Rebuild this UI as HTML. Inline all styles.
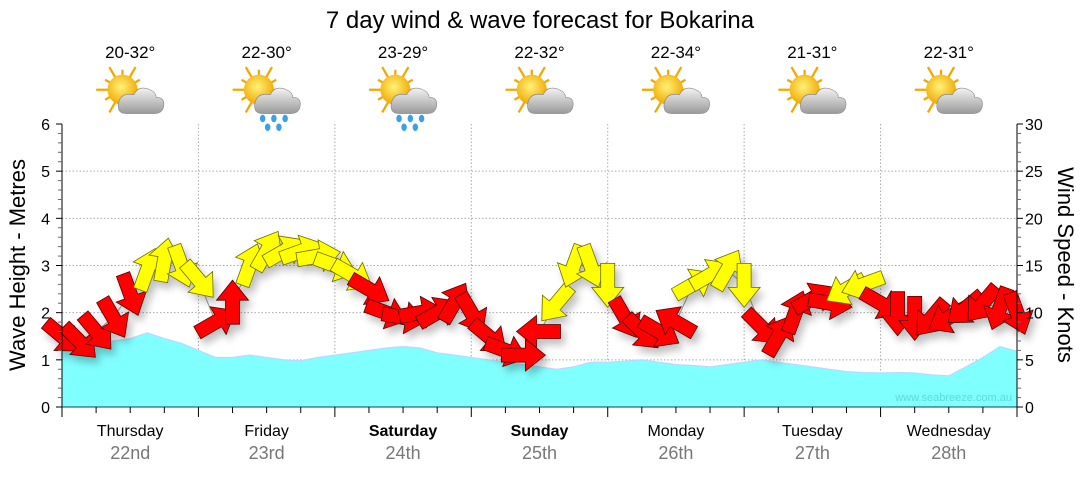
<!DOCTYPE html>
<html><head><meta charset="utf-8"><style>
body{margin:0;background:#fff;font-family:"Liberation Sans",sans-serif;}
svg text{font-family:"Liberation Sans",sans-serif;}
</style></head><body>
<svg id="chart" width="1080" height="475" xmlns="http://www.w3.org/2000/svg">
<defs>
<filter id="sh" x="-50%" y="-50%" width="200%" height="200%"><feGaussianBlur in="SourceAlpha" stdDeviation="4"/><feOffset dx="4" dy="6"/><feComponentTransfer><feFuncA type="linear" slope="0.25"/></feComponentTransfer><feMerge><feMergeNode/><feMergeNode in="SourceGraphic"/></feMerge></filter>
<radialGradient id="sun" cx="0.45" cy="0.4" r="0.6"><stop offset="0" stop-color="#fff27a"/><stop offset="1" stop-color="#f0a800"/></radialGradient>
<linearGradient id="cloud" x1="0" y1="0" x2="0" y2="1"><stop offset="0" stop-color="#f2f2f2"/><stop offset="1" stop-color="#9a9a9a"/></linearGradient>
</defs>
<text x="540" y="28" text-anchor="middle" font-size="24" fill="#000">7 day wind &amp; wave forecast for Bokarina</text>
<g id="grid"></g>
<g id="wave"></g>
<g id="wind" filter="url(#sh)"></g>
<g id="axes"></g>
<g id="topg"></g>
<text x="1012" y="401" text-anchor="end" font-size="11" fill="#5fd8dc">www.seabreeze.com.au</text>
<text transform="translate(25,265) rotate(-90)" text-anchor="middle" font-size="22" fill="#000">Wave Height - Metres</text>
<text transform="translate(1058,265) rotate(90)" text-anchor="middle" font-size="22" fill="#000">Wind Speed - Knots</text>
</svg>
<script>
const days=["Thursday","Friday","Saturday","Sunday","Monday","Tuesday","Wednesday"];
const dates=["22nd","23rd","24th","25th","26th","27th","28th"];
const boldDays=[false,false,true,true,false,false,false];
const temps=["20-32°","22-30°","23-29°","22-32°","22-34°","21-31°","22-31°"];
const rain=[false,true,true,false,false,false,false];
const waveHeights=[1.25,1.25,1.3,1.4,1.45,1.57,1.45,1.35,1.2,1.05,1.05,1.1,1.05,1.0,0.98,1.05,1.1,1.15,1.2,1.25,1.28,1.25,1.15,1.1,1.05,1.0,0.95,0.9,0.85,0.8,0.85,0.95,0.95,0.97,1.0,0.95,0.9,0.88,0.85,0.9,0.95,1.0,0.95,0.9,0.85,0.8,0.75,0.73,0.72,0.73,0.72,0.68,0.66,0.85,1.05,1.28,1.18];
const windSpeeds=[7.5,7,8,9.5,12,14.5,15.5,15,13.5,9,11,15,16.5,16.5,16.5,16,15,14,12.5,10,9.5,10,10,11,10,7.5,6,5.5,8,11,15,15,13,9.5,8,8,9,13,14,14.5,13,8.5,7.5,10,11.5,11,12.5,13,11,10,9.5,9.5,9.5,10.5,11,10.5,10];
const windDirs=[130,135,140,150,160,20,10,160,140,60,0,20,30,60,70,80,110,120,120,110,100,80,60,30,150,130,110,90,270,220,200,160,180,150,135,120,300,60,60,30,180,135,30,20,60,100,240,250,120,180,180,220,240,230,220,200,160];
const windColors=["r","r","r","r","r","y","y","y","y","r","r","y","y","y","y","y","y","y","r","r","r","r","r","r","r","r","r","r","r","y","y","y","y","r","r","r","r","y","y","y","y","r","r","r","r","r","y","y","r","r","r","r","r","r","r","r","r"];
const leftTicks=[0,1,2,3,4,5,6];
const rightTicks=[0,5,10,15,20,25,30];

const NS="http://www.w3.org/2000/svg";
const X0=62,X1=1017,Y0=407,Y1=124;
const dayW=(X1-X0)/7;
function xT(h){return X0+h/168*(X1-X0);}
function yM(m){return Y0-m/6*(Y0-Y1);}
function yK(k){return Y0-k/30*(Y0-Y1);}
function mk(tag,attrs,parent){const e=document.createElementNS(NS,tag);for(const k in attrs)e.setAttribute(k,attrs[k]);parent.appendChild(e);return e;}
const gridG=document.getElementById('grid'),axesG=document.getElementById('axes'),waveG=document.getElementById('wave'),windG=document.getElementById('wind'),topG=document.getElementById('topg');

leftTicks.forEach(v=>{if(v>0&&v<6){const l=mk('line',{x1:X0,x2:X1,y1:yM(v),y2:yM(v),stroke:'#aaa','stroke-dasharray':'1.5,2'},gridG);

}});
for(let d=1;d<7;d++){const l=mk('line',{x1:X0+d*dayW,x2:X0+d*dayW,y1:Y1,y2:Y0,stroke:'#aaa','stroke-dasharray':'1.5,2'},gridG);

}

let d='M'+xT(0)+','+Y0;
waveHeights.forEach((v,i)=>{d+=' L'+xT(i*3).toFixed(1)+','+yM(v).toFixed(1);});
d+=' L'+xT((waveHeights.length-1)*3).toFixed(1)+','+Y0+' Z';
const wa=mk('path',{d:d,fill:'#80ffff'},waveG);


let dl='';waveHeights.forEach((v,i)=>{dl+=(i?' L':'M')+xT(i*3).toFixed(1)+','+yM(v).toFixed(1);});
const wl=mk('path',{d:dl,fill:'none',stroke:'#b8d8ff','stroke-width':1.2},waveG);



let cl='';windSpeeds.forEach((v,i)=>{cl+=(i?' L':'M')+xT(i*3).toFixed(1)+','+yK(v).toFixed(1);});
const cn=mk('path',{d:cl,fill:'none',stroke:'#999','stroke-width':1},waveG);



const arrowPts="-7,21 7,21 7,-3 16,-3 0,-23 -16,-3 -7,-3";
windSpeeds.forEach((v,i)=>{
  const x=xT(i*3),y=yK(v);
  const yel=windColors[i]==='y';
  const p=mk('polygon',{points:arrowPts,transform:`translate(${x.toFixed(1)},${y.toFixed(1)}) rotate(${windDirs[i]})`,fill:yel?'#ffff00':'#ff0000',stroke:yel?'#6b6b00':'#500','stroke-width':0.8},windG);
  
  
});

const al=mk('line',{x1:X0,x2:X0,y1:Y1,y2:Y0,stroke:'#000'},axesG);


const ar=mk('line',{x1:X1,x2:X1,y1:Y1,y2:Y0,stroke:'#000'},axesG);


const ab=mk('line',{x1:X0,x2:X1,y1:Y0,y2:Y0,stroke:'#1a3a5a'},axesG);


for(let k=0;k<=30;k++){const y=yK(k),maj=k%5===0;
  mk('line',{x1:X0-(maj?6:4),x2:X0,y1:y,y2:y,stroke:maj?'#000':'#666'},axesG);
  mk('line',{x1:X1,x2:X1+(maj?6:4),y1:y,y2:y,stroke:maj?'#000':'#666'},axesG);}
leftTicks.forEach(v=>{const t=mk('text',{x:X0-12,y:yM(v)+6,'text-anchor':'end','font-size':16},axesG);t.textContent=v;

});
rightTicks.forEach(v=>{const t=mk('text',{x:X1+8,y:yK(v)+6,'font-size':16},axesG);t.textContent=v;

});
for(let h=0;h<=168;h+=6){const x=xT(h),maj=h%24===0;mk('line',{x1:x,x2:x,y1:Y0,y2:Y0+(maj?10:6),stroke:'#000'},axesG);}

days.forEach((dn,i)=>{
  const cx=X0+(i+0.5)*dayW;
  const t=mk('text',{x:cx,y:436,'text-anchor':'middle','font-size':16,'font-weight':boldDays[i]?'bold':'normal'},axesG);t.textContent=dn;
  
  
  const t2=mk('text',{x:cx,y:459,'text-anchor':'middle','font-size':18,fill:'#777'},axesG);t2.textContent=dates[i];
  
  
  const t3=mk('text',{x:cx,y:58,'text-anchor':'middle','font-size':17},topG);t3.textContent=temps[i];
  
  
  const g=mk('g',{transform:`translate(${cx+1},96) scale(1.25)`},topG);
  
  
  for(let r=0;r<12;r++){const a=r*30*Math.PI/180,l=r%2?16:21;mk('line',{x1:-7+Math.cos(a)*10,y1:-5+Math.sin(a)*10,x2:-7+Math.cos(a)*l,y2:-5+Math.sin(a)*l,stroke:'#f0a800','stroke-width':1.8},g);}
  mk('circle',{cx:-7,cy:-5,r:12,fill:'url(#sun)'},g);
  mk('path',{d:'M-4,14 Q-12,14 -10,5 Q-8,-3 2,-1 Q6,-9 15,-5 Q20,-3 20,1 Q27,1 26,8 Q25,14 19,14 Z',fill:'url(#cloud)',stroke:'#888','stroke-width':0.5},g);
  if(rain[i]){[[-4,18],[5,18],[14,18],[0,25],[9,25]].forEach(p=>mk('ellipse',{cx:p[0],cy:p[1],rx:2.2,ry:3,fill:'#3aa0e8'},g));}
});
</script>
</body></html>
